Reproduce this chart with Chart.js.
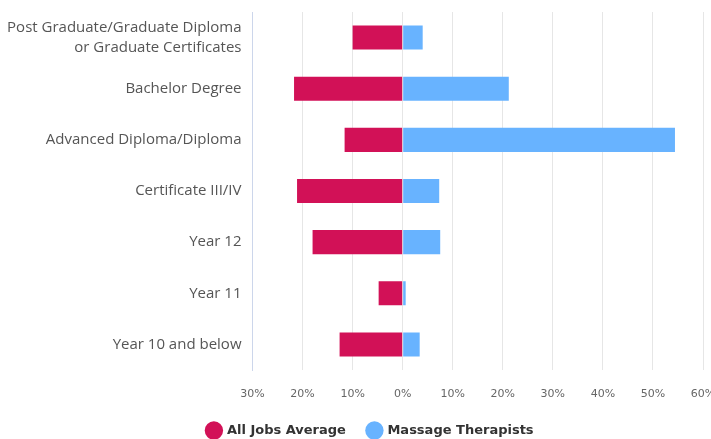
<!DOCTYPE html>
<html>
<head>
<meta charset="utf-8">
<script src="https://cdn.jsdelivr.net/npm/chart.js@4/dist/chart.umd.min.js"></script>
<style>
  html, body { margin: 0; padding: 0; background: #fff; }
  #wrap { width: 711px; height: 439px; }
</style>
</head>
<body>
<div id="wrap"><canvas id="eduChart"></canvas></div>
<script>
const categories = [
  ["Post Graduate/Graduate Diploma", "or Graduate Certificates"],
  "Bachelor Degree",
  "Advanced Diploma/Diploma",
  "Certificate III/IV",
  "Year 12",
  "Year 11",
  "Year 10 and below"
];
// All Jobs Average is drawn to the left, so stored as negative
const allJobsAverage = [-10.0, -21.7, -11.6, -21.1, -18.0, -4.8, -12.6];
const massageTherapists = [4.0, 21.2, 54.4, 7.3, 7.5, 0.6, 3.4];
const xMin = -30, xMax = 60, xStep = 10;

// legend in the original sits a little right of the canvas centre
const shiftLegend = {
  id: "shiftLegend",
  afterLayout(chart) {
    chart.legend.left += 19;
    chart.legend.right += 19;
  }
};

const ctx = document.getElementById("eduChart").getContext("2d");

new Chart(ctx, {
  type: "bar",
  data: {
    labels: categories,
    datasets: [
      {
        label: "All Jobs Average",
        data: allJobsAverage,
        backgroundColor: "#d21157",
        borderWidth: 0,
        barPercentage: 0.94,
        categoryPercentage: 0.5
      },
      {
        label: "Massage Therapists",
        data: massageTherapists,
        backgroundColor: "#68b3ff",
        borderWidth: 0,
        barPercentage: 0.94,
        categoryPercentage: 0.5
      }
    ]
  },
  plugins: [shiftLegend],
  options: {
    indexAxis: "y",
    responsive: true,
    maintainAspectRatio: false,
    animation: false,
    // negative bottom padding pulls the legend down close to the edge
    layout: { padding: { top: 12, right: 8, left: 0, bottom: -8 } },
    plugins: {
      tooltip: { enabled: false },
      legend: {
        position: "bottom",
        labels: {
          usePointStyle: true,
          pointStyle: "circle",
          boxHeight: 14,
          padding: 22,
          color: "#333",
          font: { family: "DejaVu Sans", size: 13, weight: "bold" }
        }
      }
    },
    scales: {
      x: {
        stacked: true,
        min: xMin,
        max: xMax,
        ticks: {
          stepSize: xStep,
          padding: 18,
          color: "#666",
          font: { family: "DejaVu Sans", size: 11 },
          callback: v => Math.abs(v) + "%"
        },
        grid: {
          drawTicks: false,
          color: c => c.tick && c.tick.value === xMin ? "rgba(0,0,0,0)" : "#e6e6e6"
        },
        border: { display: false },
        afterFit: s => { s.height = 32; s.paddingLeft = 0; s.paddingRight = 0; }
      },
      y: {
        stacked: true,
        ticks: {
          padding: 11,
          color: "#555",
          font: { family: "Open Sans", size: 15, lineHeight: 1.33 }
        },
        grid: { display: false, drawTicks: false },
        border: { display: true, color: "#ccd6eb", width: 1 },
        afterFit: s => { s.width = 252.5; s.paddingTop = 0; s.paddingBottom = 0; }
      }
    }
  }
});
</script>
</body>
</html>
